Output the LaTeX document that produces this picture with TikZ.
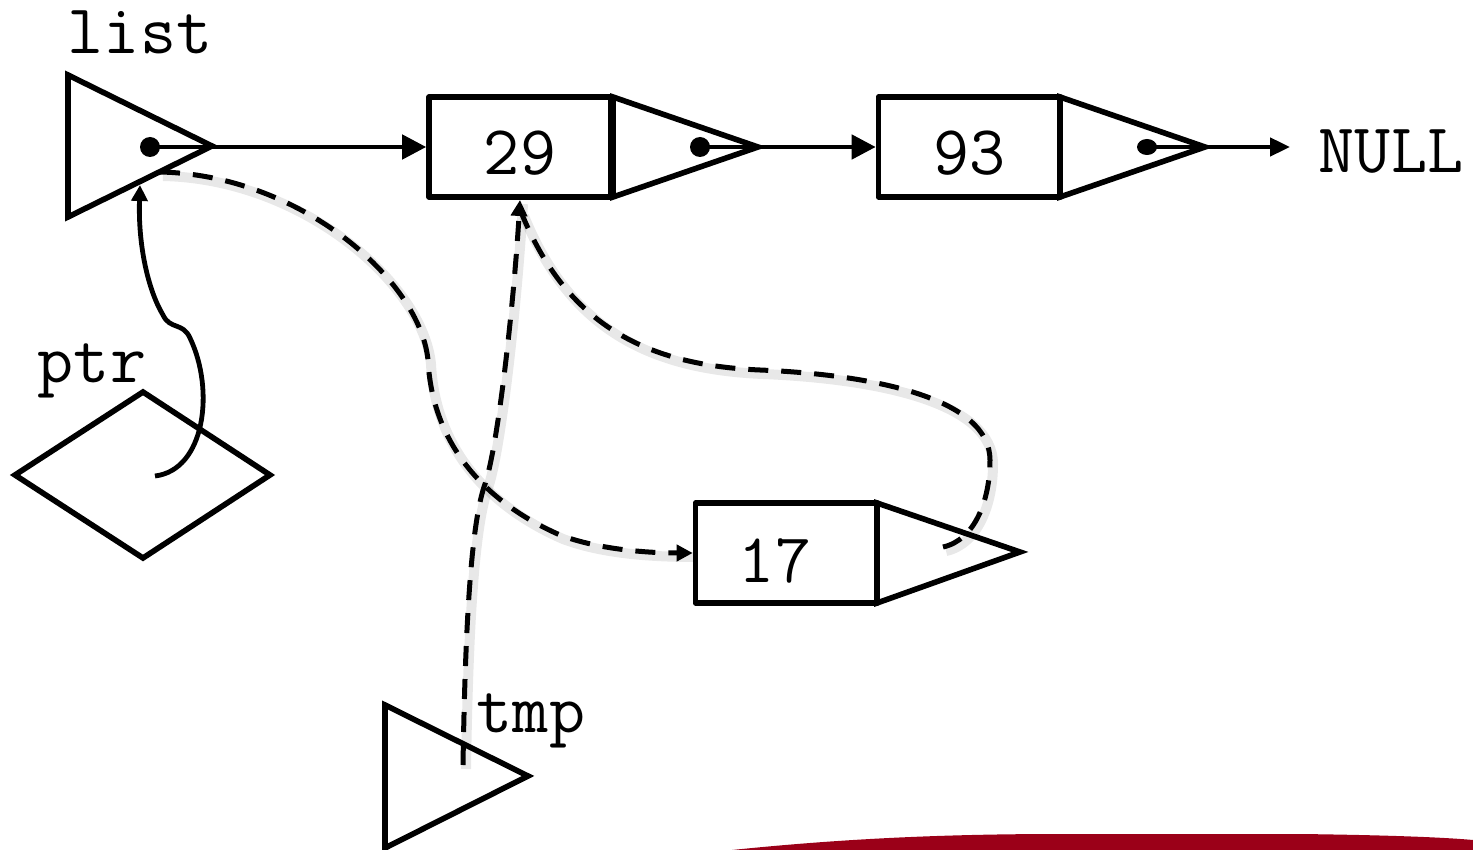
\documentclass[tikz,border=0pt]{standalone}
\usepackage{fontspec}
\usetikzlibrary{arrows.meta}

\definecolor{barred}{HTML}{9B0018}

\begin{document}
\begin{tikzpicture}[x=0.5pt, y=-0.5pt, line join=round,
  cell/.style={draw, line width=2.8pt, minimum width=91pt, minimum height=50pt, inner sep=0pt},
  outline/.style={draw, line width=2.8pt, line join=miter},
  txt/.style={font=\ttfamily\fontsize{35}{35}\selectfont, inner sep=0pt, anchor=base},
  dot/.style={fill=black},
  link/.style={line width=2.3pt, -{Triangle[length=12pt, width=12pt]}},
  smalllink/.style={line width=2.3pt, -{Triangle[length=10pt, width=9pt]}},
  curved/.style={line width=2.4pt, -{Triangle[length=8pt, width=8pt]}},
  dashlink/.style={line width=2.5pt, dash pattern=on 10pt off 6.5pt,
    preaction={draw=black, opacity=0.09, line width=5pt, solid, arrows=-,
      transform canvas={shift={(1.5pt,-2pt)}}}},
  dtip/.style={-{Triangle[length=8pt, width=8pt]}}
]
\useasboundingbox (0,0) rectangle (1473,850);

% accent strip at the lower edge
\fill[barred] (732,850) .. controls (830,840) and (930,834) .. (1060,834)
  -- (1300,834) .. controls (1380,835) and (1440,837) .. (1473,840)
  -- (1473,850) -- cycle;

% ---- pointer variable "list"
\coordinate (listA) at (68,75);
\coordinate (listB) at (68,217);
\coordinate (listTip) at (212,146);
\draw[outline] (listA) -- (listB) -- (listTip) -- cycle;
\node[txt] (listlbl) at (140,54) {list};
\coordinate (listDot) at (150,147);

% ---- node 29
\node[cell] (n29) at (520,147) {};
\node[txt] (v29) at (520,175) {29};
\coordinate (p29A) at (613,97);
\coordinate (p29B) at (613,197);
\coordinate (p29Tip) at (758,147);
\draw[outline] (p29A) -- (p29B) -- (p29Tip) -- cycle;
\coordinate (p29Dot) at (700,147);

% ---- node 93
\node[cell] (n93) at (969.5,147) {};
\node[txt] (v93) at (970,175) {93};
\coordinate (p93A) at (1060,97);
\coordinate (p93B) at (1060,197);
\coordinate (p93Tip) at (1205,147);
\draw[outline] (p93A) -- (p93B) -- (p93Tip) -- cycle;
\coordinate (p93Dot) at (1147,147);
\node[txt] (null) at (1391,173) {NULL};
\coordinate (nullEnd) at (1290,147);

% ---- node 17
\node[cell] (n17) at (786.5,553) {};
\node[txt] (v17) at (775,582) {17};
\coordinate (p17A) at (877,503);
\coordinate (p17B) at (877,603);
\coordinate (p17Tip) at (1020,552);
\draw[outline] (p17A) -- (p17B) -- (p17Tip) -- cycle;
\coordinate (p17Start) at (943,547);

% ---- pointer-to-pointer "ptr"
\coordinate (ptrW) at (15,475);
\coordinate (ptrN) at (143,392);
\coordinate (ptrE) at (270,475);
\coordinate (ptrS) at (143,558);
\draw[outline] (ptrW) -- (ptrN) -- (ptrE) -- (ptrS) -- cycle;
\node[txt] (ptrlbl) at (92,382) {ptr};
\coordinate (ptrStart) at (155,476);

% ---- pointer variable "tmp"
\coordinate (tmpA) at (385,705);
\coordinate (tmpB) at (385,848);
\coordinate (tmpTip) at (528,776);
\draw[outline] (tmpA) -- (tmpB) -- (tmpTip) -- cycle;
\node[txt] (tmplbl) at (531,732) {tmp};
\coordinate (tmpStart) at (463,765);

% ---- solid links along the list
\fill[dot] (listDot) circle[radius=5pt];
\draw[link] (listDot) -- (n29.west);
\fill[dot] (p29Dot) circle[radius=5pt];
\draw[link] (p29Dot) -- (n93.west);
\fill[dot] (p93Dot) ellipse[x radius=5pt, y radius=4pt];
\draw[smalllink] (p93Dot) -- (nullEnd);

% ---- ptr points at list
\coordinate (listEdge) at (140,185);
\draw[curved] (ptrStart) .. controls (205,470) and (215,390) .. (190,338)
  .. controls (183,322) and (170,330) .. (163,315)
  .. controls (148,290) and (138,245) .. (listEdge);

% ---- dashed (new) links
\coordinate (listLow) at (160,172);
\draw[dashlink, dtip] (listLow) .. controls (300,175) and (420,280) .. (428,360)
  .. controls (432,440) and (480,500) .. (560,535)
  .. controls (600,550) and (650,553) .. (n17.west);

\coordinate (n29Low) at (520,200);
\draw[dashlink, dtip] (tmpStart) .. controls (465,640) and (470,530) .. (484,487)
  .. controls (498,450) and (514,300) .. (n29Low);

\coordinate (n29Near) at (521,212);
\draw[dashlink] (p17Start) .. controls (975,540) and (990,500) .. (990,460)
  .. controls (990,400) and (880,375) .. (760,370)
  .. controls (640,365) and (565,320) .. (n29Near);
\end{tikzpicture}
\end{document}
